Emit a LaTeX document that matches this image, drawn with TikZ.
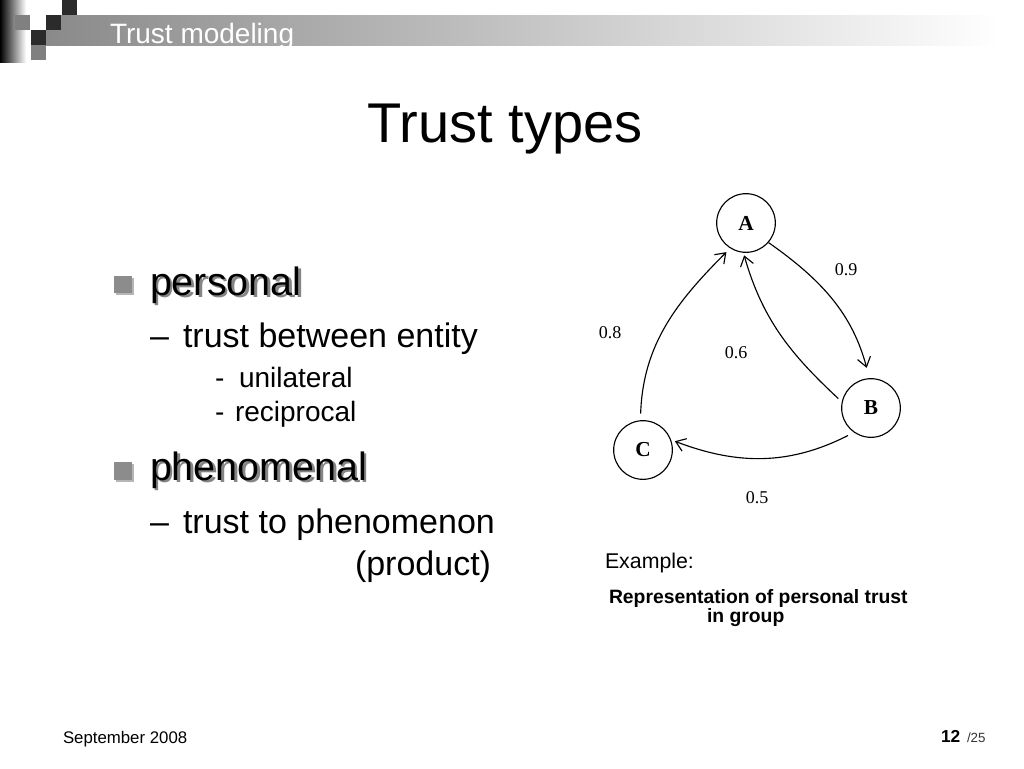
\documentclass[tikz,border=0pt]{standalone}
\usepackage{fontspec}
\setmainfont{Liberation Sans}
\newfontfamily\tnr{Liberation Serif}
\usetikzlibrary{arrows.meta}
\definecolor{bulletgray}{HTML}{8C8C8C}
\definecolor{sqdark}{HTML}{2B2B2B}
\definecolor{sqgray}{HTML}{808080}
\definecolor{bargray}{HTML}{8A8A8A}
\definecolor{shadowgray}{HTML}{858585}
\begin{document}
\begin{tikzpicture}[x=0.75pt,y=-0.75pt,
  txt/.style={anchor=base west, inner sep=0pt, outer sep=0pt},
  lvlone/.style={txt, font=\fontsize{29.6}{34}\selectfont},
  lvltwo/.style={txt, font=\fontsize{25.5}{30}\selectfont},
  lvlthree/.style={txt, font=\fontsize{21}{25}\selectfont},
  gnode/.style={circle, draw, line width=0.85pt, minimum size=44pt, inner sep=0pt,
    font=\tnr\bfseries\fontsize{16}{18}\selectfont},
  wlabel/.style={inner sep=0pt, font=\tnr\fontsize{13.5}{15}\selectfont},
  arr/.style={-{Straight Barb[length=7pt,width=10pt]}, line width=0.85pt},
  bulletsq/.style={fill=bulletgray, draw=none},
  bulletsh/.style={fill=shadowgray!60, draw=none}]
\useasboundingbox (0,0) rectangle (1024,768);
\fill[white] (0,0) rectangle (1024,768);
% header
\shade[left color=black, right color=white] (0,0) rectangle (26,62);
\shade[left color=bargray, right color=white] (46,15) rectangle (1000,45);
\fill[sqdark] (62,0) rectangle (77,15);
\fill[sqdark] (46,15) rectangle (61,30);
\fill[sqdark] (31,30) rectangle (46,45);
\fill[sqgray] (15,15) rectangle (30,30);
\fill[sqgray] (31,45) rectangle (46,60);
\node[txt, text=white, font=\fontsize{21}{25}\selectfont] (hdr) at (110,43) {Trust modeling};
% title
\node[anchor=base, inner sep=0pt, font=\fontsize{42}{48}\selectfont] (title) at (505,142) {Trust types};
% bullets
\fill[bulletsh] (116,278) rectangle (134,295);
\fill[bulletsq] (114,276) rectangle (132,293);
\node[lvlone, text=shadowgray] (p1s) at (152.5,297.5) {personal};
\node[lvlone] (p1) at (150,295) {personal};
\node[lvltwo] (d1) at (150,347) {\textendash};
\node[lvltwo] (p2) at (183,347) {trust between entity};
\node[lvlthree] (d3a) at (215,387) {-};
\node[lvlthree] (p3) at (239,387) {unilateral};
\node[lvlthree] (d3b) at (215,421) {-};
\node[lvlthree] (p4) at (235,421) {reciprocal};
\fill[bulletsh] (116,464) rectangle (134,482);
\fill[bulletsq] (114,462) rectangle (132,480);
\node[lvlone, text=shadowgray] (p5s) at (152.5,482.5) {phenomenal};
\node[lvlone] (p5) at (150,480) {phenomenal};
\node[lvltwo] (d2) at (150,533) {\textendash};
\node[lvltwo] (p6) at (183,533) {trust to phenomenon};
\node[lvltwo] (p7) at (355,575) {(product)};
% graph
\node[gnode] (A) at (746,223) {A};
\node[gnode] (B) at (871,408) {B};
\node[gnode] (C) at (643,450) {C};
\draw[arr, shorten >=8pt] (A.-41) to[out=-35,in=105] (B.93);
\draw[arr, shorten <=3.5pt, shorten >=2pt] (B.168) to[out=137,in=-74] (A.265);
\draw[arr, shorten <=5pt, shorten >=4pt] (C.95) to[out=88,in=-135] (A.-122);
\draw[arr, shorten <=5pt, shorten >=3pt] (B.-125) to[out=-153,in=-21] (C.20);
\node[wlabel] (l09) at (846,270) {0.9};
\node[wlabel] (l08) at (610,333) {0.8};
\node[wlabel] (l06) at (736,353) {0.6};
\node[wlabel] (l05) at (757,498) {0.5};
% example
\node[txt, font=\fontsize{16}{19}\selectfont] (ex) at (605,568) {Example:};
\node[txt, font=\bfseries\fontsize{14.5}{17}\selectfont] (rep1) at (609,603) {Representation of personal trust};
\node[txt, font=\bfseries\fontsize{14.5}{17}\selectfont] (rep2) at (707,622) {in group};
% footer
\node[txt, font=\fontsize{12.6}{15}\selectfont] (foot) at (63,743) {September 2008};
\node[txt, font=\bfseries\fontsize{13}{15}\selectfont] (pg) at (941,742) {12};
\node[txt, text=black!80, font=\fontsize{10}{12}\selectfont] (pgt) at (967,742) {/25};
\end{tikzpicture}
\end{document}
